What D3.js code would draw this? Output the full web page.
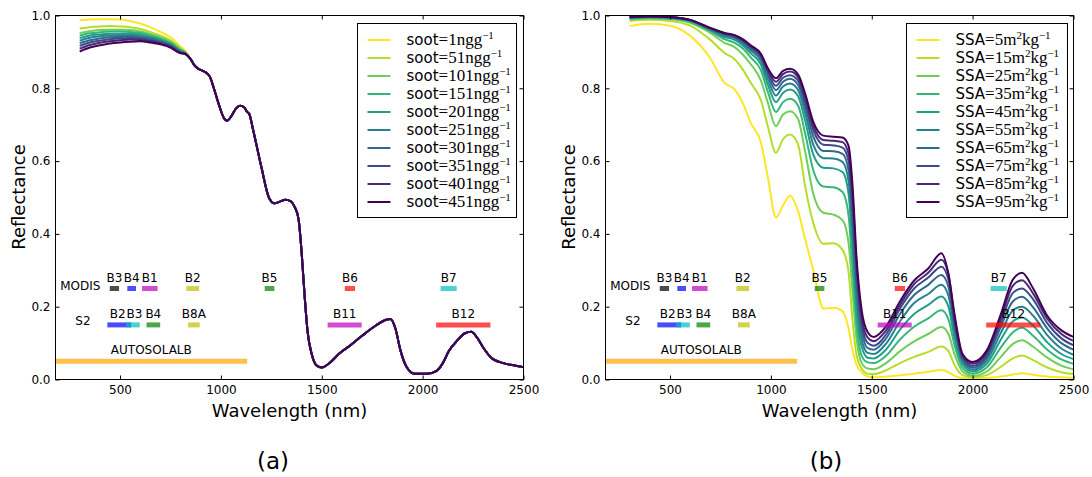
<!DOCTYPE html>
<html lang="en">
<head>
  <meta charset="UTF-8">
  <title>Reflectance</title>
  <style>
    body { margin: 0; background: #fff; }
    text { font-family: "DejaVu Sans", sans-serif; }
  </style>
</head>
<script src="https://cdnjs.cloudflare.com/ajax/libs/d3/7.8.5/d3.min.js"></script>
<body>
<div id="graph"></div>
<script>

// ---- panel (a) : soot ----
var sootValues = [1, 51, 101, 151, 201, 251, 301, 351, 401, 451];

// visible part differs between the soot curves
var wlSootVis = [300, 350, 400, 450, 500, 550, 600, 650, 700, 750, 800, 820];
var reflSootVis = [
  [.987, .989, .990, .990, .989, .985, .978, .968, .955, .940, .915, .905],
  [.964, .968, .970, .971, .970, .968, .963, .955, .945, .932, .910, .902],
  [.952, .957, .960, .961, .961, .960, .956, .949, .940, .928, .907, .900],
  [.945, .951, .954, .956, .956, .955, .952, .945, .936, .925, .905, .899],
  [.938, .945, .948, .950, .950, .950, .947, .941, .933, .922, .903, .898],
  [.931, .939, .943, .945, .946, .946, .943, .938, .930, .920, .901, .897],
  [.924, .932, .937, .940, .941, .942, .939, .935, .927, .918, .899, .896],
  [.917, .926, .931, .935, .937, .938, .936, .932, .925, .916, .898, .896],
  [.909, .919, .925, .929, .932, .934, .933, .929, .923, .914, .897, .895],
  [.901, .912, .918, .923, .926, .928, .929, .926, .921, .912, .896, .895]
];
// beyond ~850 nm all soot curves lie on top of each other
var wlSootNir = [850, 870, 890, 920, 945, 965, 990, 1015, 1030, 1050,
  1075, 1095, 1115, 1130, 1140, 1160, 1200, 1240, 1265, 1290,
  1320, 1345, 1365, 1385, 1400, 1415, 1430, 1450, 1475, 1500,
  1540, 1590, 1640, 1700, 1770, 1820, 1840, 1865, 1890, 1920,
  1960, 2020, 2070, 2100, 2130, 2170, 2210, 2240, 2270, 2300,
  2340, 2400, 2460, 2500];
var reflSootNir = [.880, .862, .853, .845, .832, .800, .755, .718, .711, .722,
  .745, .752, .748, .735, .730, .685, .585, .497, .484, .488,
  .494, .490, .475, .440, .350, .230, .130, .070, .038, .033,
  .046, .073, .093, .120, .149, .164, .166, .140, .080, .035,
  .016, .016, .024, .045, .078, .106, .127, .131, .115, .088,
  .060, .045, .038, .034];

// ---- panel (b) : SSA ----
var ssaValues = [5, 15, 25, 35, 45, 55, 65, 75, 85, 95];
var wlSSA = [300, 400, 500, 600, 700, 770, 820, 860, 900, 950,
  985, 1025, 1060, 1095, 1135, 1170, 1210, 1260, 1310, 1355,
  1385, 1405, 1425, 1450, 1480, 1510, 1570, 1640, 1710, 1780,
  1845, 1880, 1910, 1950, 2000, 2070, 2140, 2200, 2245, 2300,
  2370, 2440, 2500];
var reflSSA = [
  [.971, .977, .972, .944, .882, .815, .797, .760, .705, .652,
   .555, .445, .478, .505, .462, .385, .300, .195, .197, .188,
   .140, .080, .040, .020, .008, .006, .008, .012, .016, .021,
   .026, .020, .010, .004, .002, .004, .008, .014, .017, .013,
   .008, .006, .005],
  [.985, .988, .985, .972, .933, .897, .880, .852, .815, .768,
   .695, .623, .660, .673, .645, .530, .430, .373, .374, .356,
   .295, .160, .065, .030, .016, .015, .025, .045, .062, .076,
   .091, .078, .040, .012, .006, .012, .035, .058, .066, .053,
   .033, .020, .015],
  [.989, .992, .990, .980, .952, .925, .913, .893, .866, .822,
   .760, .696, .728, .737, .715, .625, .510, .458, .453, .438,
   .375, .240, .110, .045, .030, .028, .045, .078, .105, .125,
   .144, .125, .070, .022, .010, .022, .062, .098, .108, .090,
   .060, .038, .028],
  [.991, .994, .992, .983, .957, .935, .925, .910, .885, .850,
   .790, .735, .762, .771, .752, .675, .575, .530, .528, .515,
   .450, .300, .150, .065, .047, .045, .065, .110, .145, .168,
   .190, .165, .095, .032, .016, .033, .088, .130, .142, .120,
   .082, .055, .043],
  [.993, .995, .993, .985, .960, .941, .933, .918, .896, .866,
   .810, .762, .788, .797, .778, .710, .618, .582, .580, .570,
   .510, .360, .190, .090, .060, .058, .082, .137, .180, .205,
   .228, .200, .115, .042, .022, .043, .110, .160, .170, .148,
   .102, .070, .056],
  [.994, .996, .994, .986, .962, .945, .938, .924, .904, .876,
   .825, .780, .805, .813, .795, .733, .645, .608, .607, .598,
   .545, .400, .230, .110, .073, .070, .098, .160, .210, .235,
   .260, .230, .135, .050, .027, .052, .128, .190, .200, .175,
   .122, .085, .068],
  [.995, .997, .995, .987, .963, .948, .941, .928, .909, .884,
   .837, .795, .818, .826, .809, .750, .668, .628, .627, .620,
   .575, .440, .260, .135, .086, .082, .112, .180, .232, .260,
   .287, .255, .150, .056, .032, .060, .145, .215, .227, .198,
   .140, .100, .082],
  [.995, .997, .995, .987, .964, .950, .943, .931, .913, .889,
   .845, .807, .829, .836, .820, .763, .685, .645, .643, .637,
   .600, .470, .290, .155, .100, .093, .123, .195, .250, .280,
   .310, .275, .160, .061, .037, .067, .158, .238, .250, .220,
   .155, .113, .094],
  [.996, .998, .996, .988, .965, .951, .945, .933, .916, .892,
   .850, .818, .839, .846, .830, .775, .697, .658, .656, .652,
   .620, .500, .315, .170, .115, .105, .134, .205, .262, .293,
   .329, .290, .170, .065, .043, .074, .170, .258, .273, .236,
   .167, .125, .106],
  [.996, .998, .996, .988, .966, .952, .946, .935, .918, .895,
   .855, .828, .848, .854, .838, .785, .708, .670, .667, .665,
   .642, .530, .330, .190, .130, .117, .145, .215, .272, .305,
   .347, .290, .180, .070, .048, .080, .180, .275, .293, .250,
   .175, .135, .117]
];

// satellite bands: name, start nm, end nm, matplotlib colour letter
var modisBands = [
  ["B3", 449, 495, "k"], ["B4", 536, 579, "b"], ["B1", 609, 686, "m"],
  ["B2", 829, 892, "y"], ["B5", 1217, 1265, "g"], ["B6", 1614, 1665, "r"],
  ["B7", 2089, 2169, "c"]
];
var s2Bands = [
  ["B2", 437, 555, "b"], ["B3", 530, 598, "c"], ["B4", 631, 699, "g"],
  ["B8A", 837, 895, "y"], ["B11", 1529, 1698, "m"], ["B12", 2067, 2336, "r"]
];
var autosolalb = [180, 1130];

var xTicks = [500, 1000, 1500, 2000, 2500];
var yTicks = [0, 0.2, 0.4, 0.6, 0.8, 1.0];

var mplColors = { k: "#000000", b: "#0000ff", m: "#bf00bf", y: "#bfbf00",
                  g: "#008000", r: "#ff0000", c: "#00bfbf", o: "#ffa500" };

var svg = d3.select("#graph").append("svg")
    .attr("width", 1092)
    .attr("height", 477)
    .style("background", "#fff");

function seriesColor(i) {
  return d3.interpolateViridis(1 - i / 9);
}

function drawPanel(p) {
  var x = d3.scaleLinear().domain([180, 2500]).range([p.left, p.right]);
  var y = d3.scaleLinear().domain([0, 1]).range([379.5, 15.5]);
  var g = svg.append("g");

  var line = d3.line()
      .x(d => x(d[0]))
      .y(d => y(d[1]))
      .curve(d3.curveMonotoneX);

  p.series.forEach(function(s, i) {
    g.append("path")
      .datum(d3.zip(s.wl, s.refl))
      .attr("d", line)
      .attr("fill", "none")
      .attr("stroke", seriesColor(i))
      .attr("stroke-width", 2);
  });

  // band bars
  function bandRow(bands, level, labelLevel) {
    bands.forEach(function(b) {
      g.append("line")
        .attr("x1", x(b[1])).attr("x2", x(b[2]))
        .attr("y1", y(level)).attr("y2", y(level))
        .attr("stroke", mplColors[b[3]])
        .attr("stroke-opacity", 0.7)
        .attr("stroke-width", 5);
    });
    var prev = null;
    bands.forEach(function(b) {
      var t = g.append("text")
        .attr("x", x((b[1] + b[2]) / 2))
        .attr("y", y(labelLevel))
        .attr("text-anchor", "middle")
        .attr("font-size", 12)
        .text(b[0]);
      // labels that collide (B2/B3) are pushed apart so they just touch
      if (prev) {
        var w0 = prev.node().getComputedTextLength(), w1 = t.node().getComputedTextLength();
        var x0 = +prev.attr("x"), x1 = +t.attr("x");
        var gap = (x1 - w1 / 2) - (x0 + w0 / 2);
        if (gap < 0) {
          prev.attr("x", x0 + gap / 2 - 0.5);
          t.attr("x", x1 - gap / 2 + 0.5);
        }
      }
      prev = t;
    });
  }
  bandRow(modisBands, 0.25, 0.268);
  bandRow(s2Bands, 0.15, 0.168);

  g.append("line")
    .attr("x1", x(autosolalb[0])).attr("x2", x(autosolalb[1]))
    .attr("y1", y(0.05)).attr("y2", y(0.05))
    .attr("stroke", mplColors.o)
    .attr("stroke-opacity", 0.7)
    .attr("stroke-width", 5);
  g.append("text").attr("x", x(655)).attr("y", y(0.071))
    .attr("text-anchor", "middle").attr("font-size", 12).text("AUTOSOLALB");
  g.append("text").attr("x", x(303)).attr("y", y(0.247))
    .attr("text-anchor", "middle").attr("font-size", 12).text("MODIS");
  g.append("text").attr("x", x(316)).attr("y", y(0.149))
    .attr("text-anchor", "middle").attr("font-size", 12).text("S2");

  // axes, ticks pointing inward on all sides
  function styleAxis(a) {
    a.select(".domain").remove();
    a.selectAll("text").attr("font-family", "DejaVu Sans").attr("font-size", 12).attr("fill", "#000");
  }
  g.append("g").attr("transform", "translate(0," + y(0) + ")")
    .call(d3.axisBottom(x).tickValues(xTicks).tickSizeInner(-4).tickSizeOuter(0).tickPadding(6).tickFormat(d3.format("d")))
    .call(styleAxis);
  g.append("g").attr("transform", "translate(0," + y(1) + ")")
    .call(d3.axisTop(x).tickValues(xTicks).tickSizeInner(-4).tickSizeOuter(0).tickFormat(""))
    .call(styleAxis);
  g.append("g").attr("transform", "translate(" + x(180) + ",0)")
    .call(d3.axisLeft(y).tickValues(yTicks).tickSizeInner(-4).tickSizeOuter(0).tickPadding(5).tickFormat(d3.format(".1f")))
    .call(styleAxis);
  g.append("g").attr("transform", "translate(" + x(2500) + ",0)")
    .call(d3.axisRight(y).tickValues(yTicks).tickSizeInner(-4).tickSizeOuter(0).tickFormat(""))
    .call(styleAxis);

  g.append("rect")
    .attr("x", x(180)).attr("y", y(1))
    .attr("width", x(2500) - x(180)).attr("height", y(0) - y(1))
    .attr("fill", "none").attr("stroke", "#000").attr("stroke-width", 1);

  // axis titles
  g.append("text")
    .attr("x", (p.left + p.right) / 2).attr("y", 417)
    .attr("text-anchor", "middle").attr("font-size", 18)
    .text("Wavelength (nm)");
  g.append("text")
    .attr("transform", "translate(" + (p.left - 31) + "," + 197 + ") rotate(-90)")
    .attr("text-anchor", "middle").attr("font-size", 18)
    .text("Reflectance");

  g.append("text")
    .attr("x", p.caption).attr("y", 469)
    .attr("text-anchor", "middle").attr("font-size", 23)
    .text(p.captionText);

  // legend
  var lg = g.append("g");
  lg.append("rect")
    .attr("x", p.legendX).attr("y", 23.5)
    .attr("width", p.legendW).attr("height", 194)
    .attr("fill", "#fff").attr("stroke", "#000").attr("stroke-width", 1);
  p.legend.forEach(function(parts, i) {
    var yy = 40 + i * 18;
    lg.append("line")
      .attr("x1", p.legendX + 10).attr("x2", p.legendX + 33)
      .attr("y1", yy).attr("y2", yy)
      .attr("stroke", seriesColor(i)).attr("stroke-width", 2);
    var t = lg.append("text")
      .attr("x", p.legendX + 49).attr("y", yy + 5)
      .attr("font-size", 15);
    var shift = 0;
    parts.forEach(function(pt) {
      var ts = t.append("tspan").text(pt.t);
      if (pt.sup) {
        ts.attr("font-family", "Liberation Serif").attr("font-size", 11).attr("dy", -6 - shift);
        shift = -6;
      } else {
        if (shift) ts.attr("dy", -shift);
        shift = 0;
        if (pt.serif) ts.attr("font-family", "Liberation Serif").attr("font-size", 17);
      }
    });
  });
}

var sootSeries = reflSootVis.map(function(v) {
  return { wl: wlSootVis.concat(wlSootNir), refl: v.concat(reflSootNir) };
});
var ssaSeries = reflSSA.map(function(v) {
  return { wl: wlSSA, refl: v };
});

drawPanel({
  left: 55.5, right: 523.5, series: sootSeries,
  caption: 273, captionText: "(a)",
  legendX: 357.5, legendW: 159,
  legend: sootValues.map(v => [{ t: "soot" }, { t: "=" + v + "ngg", serif: true }, { t: "\u22121", sup: true }])
});
drawPanel({
  left: 605.5, right: 1073.5, series: ssaSeries,
  caption: 826, captionText: "(b)",
  legendX: 906.5, legendW: 161,
  legend: ssaValues.map(v => [{ t: "SSA" }, { t: "=" + v + "m", serif: true }, { t: "2", sup: true },
                              { t: "kg", serif: true }, { t: "\u22121", sup: true }])
});
</script>
</body>
</html>
